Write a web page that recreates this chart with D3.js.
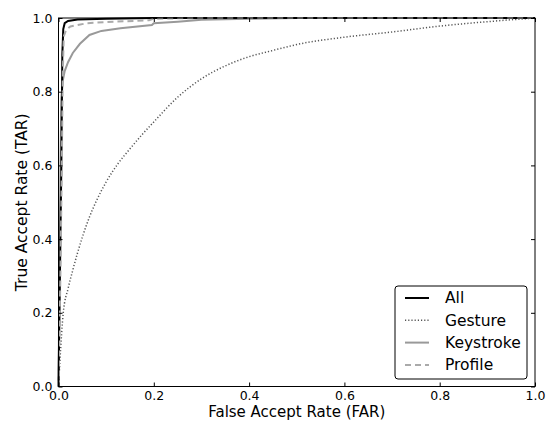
<!DOCTYPE html>
<html>
<head>
<meta charset="utf-8">
<script src="https://cdn.jsdelivr.net/npm/d3@7"></script>
<style>
  body { margin: 0; background: #fff; overflow: hidden; }
  svg { display: block; }
  text { font-family: "DejaVu Sans", sans-serif; }
</style>
</head>
<body>
<svg id="chart" width="547" height="421"></svg>
<script>
// ROC curves: [FAR, TAR]
var allCurve = [[0,0],[0.003,0.3],[0.006,0.6],[0.008,0.9],[0.01,0.97],[0.013,0.986],[0.02,0.992],[0.04,0.996],[0.1,0.998],[0.2,1],[1,1]];
var gestureCurve = [[0,0],[0.003,0.07],[0.01,0.2],[0.02,0.265],[0.03,0.316],[0.05,0.405],[0.065,0.46],[0.08,0.505],[0.1,0.555],[0.125,0.605],[0.15,0.645],[0.175,0.683],[0.2,0.718],[0.25,0.785],[0.3,0.835],[0.35,0.87],[0.4,0.895],[0.45,0.912],[0.5,0.928],[0.6,0.948],[0.7,0.962],[0.8,0.978],[0.9,0.99],[1,1]];
var keystrokeCurve = [[0,0],[0.002,0.3],[0.004,0.6],[0.006,0.78],[0.009,0.83],[0.013,0.856],[0.02,0.88],[0.03,0.905],[0.045,0.93],[0.065,0.954],[0.09,0.965],[0.13,0.972],[0.196,0.981],[0.2,0.986],[0.25,0.99],[0.3,0.995],[0.4,0.998],[0.5,1],[1,1]];
var profileCurve = [[0,0],[0.004,0.3],[0.007,0.6],[0.009,0.85],[0.011,0.95],[0.016,0.968],[0.025,0.977],[0.06,0.986],[0.12,0.99],[0.19,0.994],[0.2,0.998],[0.3,1],[1,1]];
var seriesNames = ["All", "Gesture", "Keystroke", "Profile"];
var tickValues = [0, 0.2, 0.4, 0.6, 0.8, 1.0];

var series = [
  {name: seriesNames[0], data: allCurve, color: "#000", width: 2, dash: null},
  {name: seriesNames[1], data: gestureCurve, color: "#555", width: 1.5, dash: "1.2,2"},
  {name: seriesNames[2], data: keystrokeCurve, color: "#999", width: 2, dash: null},
  {name: seriesNames[3], data: profileCurve, color: "#aaa", width: 2, dash: "6,4"}
];

var svg = d3.select("#chart");
var mLeft = 58.5, mTop = 18, mRight = 535, mBottom = 386.5;
var width = mRight - mLeft, height = mBottom - mTop;

var x = d3.scaleLinear().domain([0, 1]).range([0, width]);
var y = d3.scaleLinear().domain([0, 1]).range([height, 0]);

var g = svg.append("g").attr("transform", "translate(" + mLeft + "," + mTop + ")");

var line = d3.line().x(d => x(d[0])).y(d => y(d[1]));
var smoothLine = d3.line().x(d => x(d[0])).y(d => y(d[1])).curve(d3.curveMonotoneX);

// draw the curves, gesture first so the others sit on top
[1, 2, 0, 3].forEach(function(i) {
  var s = series[i];
  g.append("path")
    .datum(s.data)
    .attr("fill", "none")
    .attr("stroke", s.color)
    .attr("stroke-width", s.width)
    .attr("stroke-dasharray", s.dash)
    .attr("d", i == 1 ? smoothLine : line);
});

var fmt = d3.format(".1f");
function styleAxis(a) {
  a.select(".domain").remove();
  a.selectAll(".tick line").attr("stroke", "#000");
  a.selectAll(".tick text").attr("font-size", 12.5).attr("fill", "#000").style("font-family", "DejaVu Sans");
}

g.append("g").attr("transform", "translate(0," + height + ")")
  .call(d3.axisBottom(x).tickValues(tickValues).tickFormat(fmt).tickSizeInner(-4).tickSizeOuter(0).tickPadding(5))
  .call(styleAxis);
g.append("g")
  .call(d3.axisLeft(y).tickValues(tickValues).tickFormat(fmt).tickSizeInner(-4).tickSizeOuter(0).tickPadding(6))
  .call(styleAxis);
g.append("g")
  .call(d3.axisTop(x).tickValues(tickValues).tickFormat("").tickSizeInner(-4).tickSizeOuter(0))
  .call(styleAxis);
g.append("g").attr("transform", "translate(" + width + ",0)")
  .call(d3.axisRight(y).tickValues(tickValues).tickFormat("").tickSizeInner(-4).tickSizeOuter(0))
  .call(styleAxis);

g.append("rect")
  .attr("width", width).attr("height", height)
  .attr("fill", "none").attr("stroke", "#000").attr("stroke-width", 1);

// axis labels
svg.append("text")
  .attr("x", mLeft + width / 2).attr("y", 417.3)
  .attr("text-anchor", "middle").attr("font-size", 15)
  .text("False Accept Rate (FAR)");
svg.append("text")
  .attr("transform", "translate(27," + (mTop + height / 2) + ") rotate(-90)")
  .attr("text-anchor", "middle").attr("font-size", 15.5)
  .text("True Accept Rate (TAR)");

// legend
var lg = svg.append("g").attr("transform", "translate(395,286)");
lg.append("rect")
  .attr("width", 132).attr("height", 93).attr("rx", 3)
  .attr("fill", "#fff").attr("stroke", "#000").attr("stroke-width", 1);
series.forEach(function(s, i) {
  var yy = 12 + i * 22.3;
  lg.append("line")
    .attr("x1", 10).attr("x2", 34).attr("y1", yy).attr("y2", yy)
    .attr("stroke", s.color).attr("stroke-width", s.width)
    .attr("stroke-dasharray", s.dash);
  lg.append("text")
    .attr("x", 50).attr("y", yy).attr("dy", "0.35em")
    .attr("font-size", 15.5)
    .text(s.name);
});
</script>
</body>
</html>
